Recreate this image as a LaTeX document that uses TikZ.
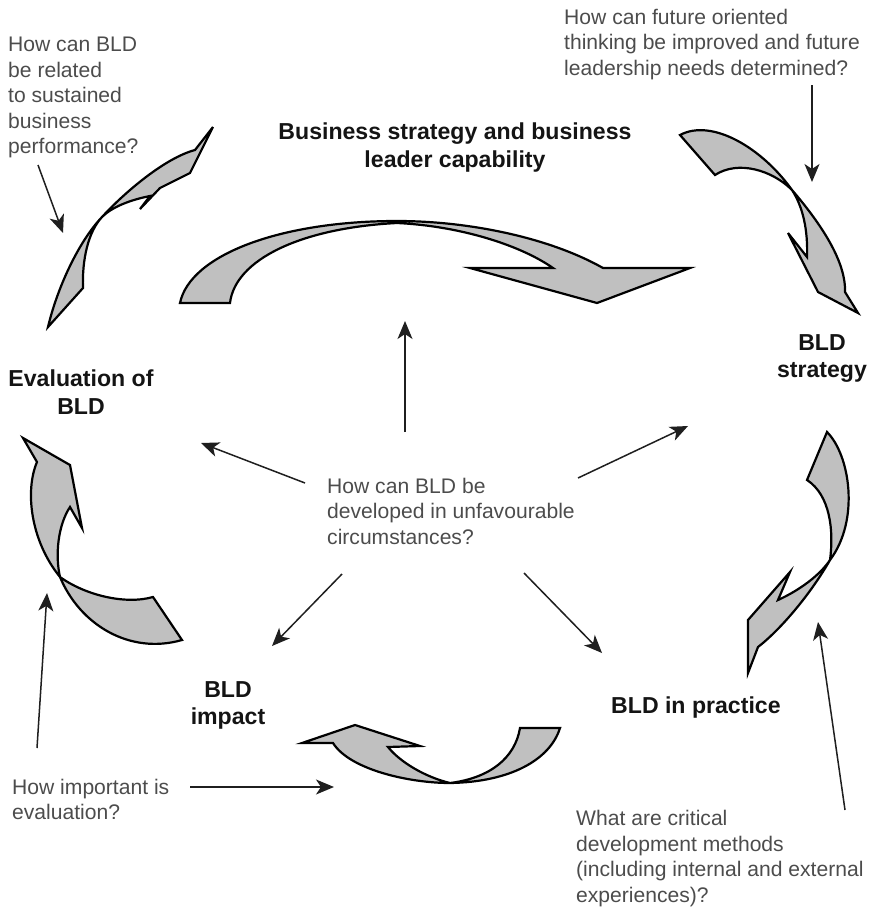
\documentclass[tikz,border=0pt]{standalone}
\usepackage{fontspec}
\setmainfont{Liberation Sans}
\usetikzlibrary{arrows.meta}
\definecolor{qgray}{HTML}{4C4C4C}
\definecolor{ribbonfill}{HTML}{C0C0C0}
\begin{document}
\begin{tikzpicture}[x=1pt,y=-1pt,
  question/.style={anchor=north west, inner sep=0pt, align=left, text=qgray,
    font=\fontsize{21.1}{25.5}\selectfont},
  stage/.style={anchor=north, inner sep=0pt, align=center, text=black!92,
    font=\bfseries\fontsize{23.1}{27.5}\selectfont},
  ribbon/.style={fill=ribbonfill, draw=black, line width=2.2pt, line join=miter, miter limit=8},
  pointer/.style={draw=black!88, line width=1.5pt,
    -{Stealth[length=18pt,width=15pt,inset=5pt]}}]
\useasboundingbox (0,0) rectangle (873,907);

% ---- stage labels ----
\node[stage] (bs) at (455,123) {Business strategy and business\\leader capability};
\node[stage] (st) at (822,334) {BLD\\strategy};
\node[stage] (ev) at (81,370) {Evaluation of\\BLD};
\node[stage] (im) at (228,681) {BLD\\impact};
\node[stage, anchor=north west] (pr) at (611,697) {BLD in practice};

% ---- questions ----
\node[question] (q1) at (8,37) {How can BLD\\be related\\to sustained\\business\\performance?};
\node[question] (q2) at (564,9) {How can future oriented\\thinking be improved and future\\leadership needs determined?};
\node[question] (q3) at (327,478) {How can BLD be\\developed in unfavourable\\circumstances?};
\node[question] (q4) at (12,779) {How important is\\evaluation?};
\node[question] (q5) at (576,810) {What are critical\\development methods\\(including internal and external\\experiences)?};

% ---- twisted ribbon arrows of the cycle ----
% top arc: business strategy -> BLD strategy
\path[ribbon] (180,303) .. controls (190,255) and (280,221) .. (397,221)
  .. controls (470,221) and (550,238) .. (603,268)
  -- (690,268) -- (597,303) -- (470,268) -- (553,268)
  .. controls (520,245) and (460,226) .. (397,223)
  .. controls (300,228) and (235,260) .. (230,303) -- cycle;
% top right
\path[ribbon] (680,135) .. controls (712,118) and (762,148) .. (792,190)
  .. controls (822,225) and (846,262) .. (845,292)
  -- (858,313) -- (818,292) -- (788,233) -- (807,257)
  .. controls (808,230) and (803,207) .. (792,190)
  .. controls (772,170) and (738,160) .. (715,175) -- cycle;
% right
\path[ribbon] (827,432) .. controls (850,455) and (860,520) .. (830,560)
  .. controls (810,595) and (780,630) .. (758,647)
  -- (748,673) -- (748,620) -- (790,572) -- (778,600)
  .. controls (800,590) and (820,575) .. (830,560)
  .. controls (834,530) and (830,495) .. (807,480) -- cycle;
% bottom
\path[ribbon] (560,728) .. controls (550,760) and (510,782) .. (450,783)
  .. controls (410,783) and (350,770) .. (333,743)
  -- (302,743) -- (355,725) -- (420,746) -- (388,747)
  .. controls (400,762) and (425,777) .. (450,783)
  .. controls (490,778) and (515,758) .. (520,728) -- cycle;
% left
\path[ribbon] (182,640) .. controls (130,655) and (80,625) .. (60,577)
  .. controls (30,540) and (25,490) .. (37,462)
  -- (23,438) -- (70,465) -- (82,528) -- (70,507)
  .. controls (58,525) and (55,555) .. (60,577)
  .. controls (85,595) and (125,605) .. (153,597) -- cycle;
% top left
\path[ribbon] (48,327) .. controls (58,285) and (80,240) .. (102,217)
  .. controls (125,192) and (165,158) .. (195,150)
  -- (213,127) -- (190,173) -- (160,188) -- (140,209) -- (150,196)
  .. controls (130,200) and (112,207) .. (102,217)
  .. controls (88,232) and (82,260) .. (83,288) -- cycle;

% ---- pointer ends ----
\coordinate (p1s) at (38,165);  \coordinate (p1e) at (63,233);
\coordinate (p2s) at (812,85);  \coordinate (p2e) at (812,182);
\coordinate (c0s) at (405,432); \coordinate (c0e) at (405,321);
\coordinate (c1s) at (305,483); \coordinate (c1e) at (201,443);
\coordinate (c2s) at (578,478); \coordinate (c2e) at (688,426);
\coordinate (c3s) at (342,574); \coordinate (c3e) at (272,646);
\coordinate (c4s) at (524,573); \coordinate (c4e) at (602,653);
\coordinate (p4s) at (37,748);  \coordinate (p4e) at (47,593);
\coordinate (p5s) at (190,787); \coordinate (p5e) at (334,787);
\coordinate (p6s) at (845,810); \coordinate (p6e) at (818,622);

\draw[pointer] (p1s) -- (p1e);
\draw[pointer] (p2s) -- (p2e);
\draw[pointer] (c0s) -- (c0e);
\draw[pointer] (c1s) -- (c1e);
\draw[pointer] (c2s) -- (c2e);
\draw[pointer] (c3s) -- (c3e);
\draw[pointer] (c4s) -- (c4e);
\draw[pointer] (p4s) -- (p4e);
\draw[pointer] (p5s) -- (p5e);
\draw[pointer] (p6s) -- (p6e);
\end{tikzpicture}
\end{document}
